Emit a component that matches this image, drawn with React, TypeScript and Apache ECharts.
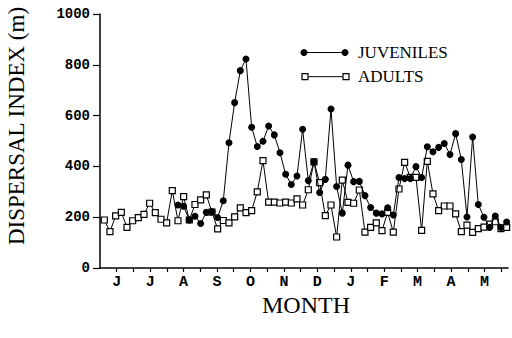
import React, { useEffect, useRef } from "react";
import * as echarts from "echarts";

// Month tick labels (June .. May), one label per month at mid-month
const monthLabels = ["J", "J", "A", "S", "O", "N", "D", "J", "F", "M", "A", "M"];
const yTicks = [0, 200, 400, 600, 800, 1000];

// Sampling schedule (days from start of June)
const FIRST_DAY = 3.8;
const STEP_DAYS = 5;
const MONTH_DAYS = 29.5;

// Dispersal index (m) of adults, one value per sample
const adults = [
  189, 143, 205, 219, 160, 186, 198, 211, 255, 218,
  192, 178, 305, 186, 281, 189, 250, 268, 288, 220,
  154, 187, 178, 201, 237, 218, 226, 300, 423, 259,
  259, 256, 259, 256, 272, 248, 308, 418, 336, 206,
  248, 122, 346, 258, 255, 307, 141, 160, 178, 147,
  219, 141, 311, 416, 357, 357, 148, 420, 292, 226,
  244, 244, 213, 143, 169, 140, 155, 161, 173, 182,
  155, 160,
];

// Dispersal index (m) of juveniles (no samples before the 14th date)
const juveniles = [
  null, null, null, null, null, null, null, null, null, null,
  null, null, null, 248, 243, 189, 204, 175, 219, 222,
  199, 265, 493, 651, 777, 823, 554, 478, 499, 559,
  524, 454, 369, 329, 362, 546, 344, 418, 297, 349,
  626, 321, 216, 405, 340, 341, 285, 238, 216, 213,
  237, 209, 356, 352, 352, 399, 356, 477, 458, 475,
  490, 447, 529, 427, 201, 516, 250, 200, 160, 205,
  160, 181,
];

const sampleDays = adults.map((_, i) => FIRST_DAY + STEP_DAYS * i);

export default function App() {
  const ref = useRef<HTMLDivElement>(null);

  useEffect(() => {
    if (!ref.current) return;
    const chart = echarts.init(ref.current, null, { renderer: "svg" });
    const half = MONTH_DAYS / 2;
    const mono = "Liberation Mono, Courier New, monospace";
    const serif = "Liberation Serif, Times New Roman, serif";

    chart.setOption({
      animation: false,
      backgroundColor: "#fff",
      grid: {
        left: 100,
        right: 4,
        top: 14,
        bottom: 70,
        containLabel: false,
        outerBoundsMode: "none",
      },
      xAxis: {
        type: "value",
        min: 0,
        max: 360,
        interval: half,
        axisLine: { show: true, onZero: false, lineStyle: { color: "#000", width: 1.5 } },
        axisTick: { show: true, length: 4, lineStyle: { color: "#000", width: 1.2 } },
        splitLine: { show: false },
        axisLabel: {
          color: "#000",
          fontFamily: mono,
          fontWeight: "bold",
          fontSize: 15,
          margin: 7,
          showMaxLabel: false,
          showMinLabel: false,
          formatter: (v: number) => {
            const k = Math.round(v / half);
            if (Math.abs(v / half - k) > 0.01 || k % 2 === 0) return "";
            return monthLabels[(k - 1) / 2] ?? "";
          },
        },
      },
      yAxis: {
        type: "value",
        min: 0,
        max: 1000,
        interval: 200,
        axisLine: { show: true, lineStyle: { color: "#000", width: 1.5 } },
        axisTick: { show: true, length: 7, lineStyle: { color: "#000", width: 1.2 } },
        splitLine: { show: false },
        axisLabel: {
          color: "#000",
          fontFamily: mono,
          fontWeight: "bold",
          fontSize: 14,
          margin: 10,
          formatter: (v: number) => (yTicks.includes(v) ? String(v) : ""),
        },
      },
      series: [
        {
          name: "ADULTS",
          type: "line",
          data: sampleDays.map((d, i) => [d, adults[i]]),
          symbol: "rect",
          symbolSize: 6,
          showAllSymbol: true,
          lineStyle: { color: "#000", width: 1 },
          itemStyle: { color: "#fff", borderColor: "#000", borderWidth: 1.2 },
          z: 2,
        },
        {
          name: "JUVENILES",
          type: "line",
          data: sampleDays.map((d, i) => [d, juveniles[i]]),
          symbol: "circle",
          symbolSize: 7,
          showAllSymbol: true,
          connectNulls: false,
          lineStyle: { color: "#000", width: 1 },
          itemStyle: { color: "#000" },
          z: 3,
        },
      ],
      graphic: [
        // legend
        { type: "line", shape: { x1: 304, y1: 52.5, x2: 345, y2: 52.5 }, style: { stroke: "#000", lineWidth: 1 } },
        { type: "circle", shape: { cx: 304, cy: 52.5, r: 3.5 }, style: { fill: "#000" } },
        { type: "circle", shape: { cx: 345, cy: 52.5, r: 3.5 }, style: { fill: "#000" } },
        { type: "text", x: 358, y: 52.5, style: { text: "JUVENILES", fill: "#000", font: `17px ${serif}`, verticalAlign: "middle", align: "left" } },
        { type: "line", shape: { x1: 305, y1: 76.7, x2: 346, y2: 76.7 }, style: { stroke: "#000", lineWidth: 1 } },
        { type: "rect", shape: { x: 302, y: 73.7, width: 6, height: 6 }, style: { fill: "#fff", stroke: "#000", lineWidth: 1.2 } },
        { type: "rect", shape: { x: 343, y: 73.7, width: 6, height: 6 }, style: { fill: "#fff", stroke: "#000", lineWidth: 1.2 } },
        { type: "text", x: 358, y: 76.7, style: { text: "ADULTS", fill: "#000", font: `17px ${serif}`, verticalAlign: "middle", align: "left" } },
        // axis titles
        {
          type: "text",
          x: 16,
          y: 126,
          rotation: Math.PI / 2,
          style: { text: "DISPERSAL INDEX (m)", fill: "#000", font: `23px ${serif}`, align: "center", verticalAlign: "middle" },
        },
        {
          type: "text",
          x: 306,
          y: 305,
          style: { text: "MONTH", fill: "#000", font: `24px ${serif}`, align: "center", verticalAlign: "middle" },
        },
      ],
    });

    return () => chart.dispose();
  }, []);

  return (
    <div
      ref={ref}
      style={{ position: "absolute", left: 0, top: 0, width: 512, height: 338 }}
    />
  );
}
